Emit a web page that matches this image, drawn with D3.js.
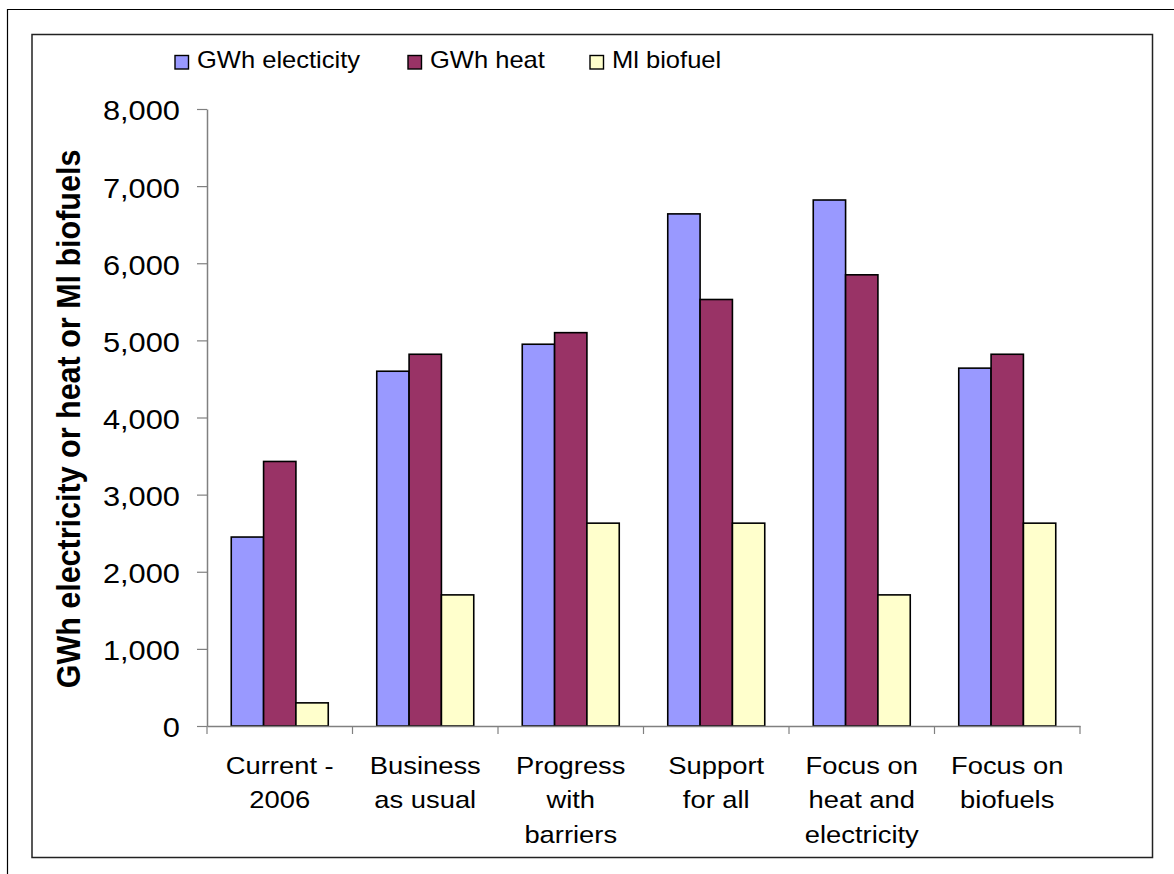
<!DOCTYPE html>
<html>
<head>
<meta charset="utf-8">
<script src="https://cdn.jsdelivr.net/npm/d3@7"></script>
<style>
  html, body { margin: 0; padding: 0; background: #fff; }
  svg { display: block; font-family: "Liberation Sans", Arial, sans-serif; }
</style>
</head>
<body>
<svg id="chart" width="1174" height="874"></svg>
<script>
// Scenario categories (multi-line labels)
const categories = [
  ["Current -", "2006"],
  ["Business", "as usual"],
  ["Progress", "with", "barriers"],
  ["Support", "for all"],
  ["Focus on", "heat and", "electricity"],
  ["Focus on", "biofuels"]
];
const seriesNames = ["GWh electicity", "GWh heat", "Ml biofuel"];
const electricity = [2450, 4600, 4950, 6640, 6820, 4640];
const heat        = [3430, 4820, 5100, 5530, 5850, 4820];
const biofuel     = [300, 1700, 2630, 2630, 1700, 2630];
const yTicks = [0, 1000, 2000, 3000, 4000, 5000, 6000, 7000, 8000];
const yTitle = "GWh electricity or heat or Ml biofuels";

const colors = ["#9999FF", "#993366", "#FFFFCC"];
const seriesValues = [electricity, heat, biofuel];

const svg = d3.select("#chart");
const font = '"Liberation Sans", Arial, sans-serif';
const stretch = 1.1; // text is drawn slightly wide

// Outer frame (only top and left edges fall inside the view)
svg.append("line").attr("x1", 7).attr("y1", 9.5).attr("x2", 1174).attr("y2", 9.5)
  .attr("stroke", "#000").attr("stroke-width", 1.2);
svg.append("line").attr("x1", 7.5).attr("y1", 9).attr("x2", 7.5).attr("y2", 874)
  .attr("stroke", "#000").attr("stroke-width", 1.2);

// Chart area border
svg.append("rect").attr("x", 32).attr("y", 34.5).attr("width", 1120.5).attr("height", 823)
  .attr("fill", "none").attr("stroke", "#222").attr("stroke-width", 1.5);

const plot = { left: 207, right: 1080, top: 109, bottom: 726 };

const x0 = d3.scaleBand()
  .domain(d3.range(categories.length))
  .range([plot.left, plot.right])
  .padding(0);
const x1 = d3.scaleBand()
  .domain(d3.range(seriesNames.length))
  .range([0, x0.bandwidth()])
  .paddingInner(0)
  .paddingOuter(0.75);
const y = d3.scaleLinear().domain([0, 8000]).range([plot.bottom, plot.top]);

// Bars
const rows = categories.map((c, i) => seriesValues.map((s, j) => ({ i, j, v: s[i] })));
svg.append("g").selectAll("g")
  .data(rows)
  .join("g")
  .attr("transform", (d, i) => `translate(${x0(i)},0)`)
  .selectAll("rect")
  .data(d => d)
  .join("rect")
  .attr("x", d => x1(d.j))
  .attr("y", d => y(d.v))
  .attr("width", x1.bandwidth())
  .attr("height", d => y(0) - y(d.v))
  .attr("fill", d => colors[d.j])
  .attr("stroke", "#000")
  .attr("stroke-width", 1.6);

// Y axis
const yAxis = d3.axisLeft(y)
  .tickValues(yTicks)
  .tickSizeInner(10)
  .tickSizeOuter(0)
  .tickFormat(d3.format(","));
const gy = svg.append("g").attr("transform", `translate(${plot.left},0)`).call(yAxis);
gy.select(".domain").attr("stroke", "#808080").attr("stroke-width", 1.5);
gy.selectAll(".tick line").attr("stroke", "#808080").attr("stroke-width", 1.2);
gy.selectAll(".tick text")
  .attr("x", 0)
  .attr("dy", "0.39em")
  .attr("transform", `translate(-27,0) scale(${stretch},1)`)
  .attr("fill", "#000")
  .style("font-family", font)
  .style("font-size", "28px");

// X axis
const xAxis = d3.axisBottom(x0).tickSize(0).tickFormat("");
const gx = svg.append("g").attr("transform", `translate(0,${plot.bottom})`).call(xAxis);
gx.select(".domain").attr("stroke", "#808080").attr("stroke-width", 1.5);
gx.selectAll(".tick").remove();
// category separator ticks
gx.selectAll(".sep")
  .data(d3.range(categories.length + 1))
  .join("line")
  .attr("class", "sep")
  .attr("x1", i => plot.left + i * x0.step())
  .attr("x2", i => plot.left + i * x0.step())
  .attr("y1", 0).attr("y2", 8)
  .attr("stroke", "#808080").attr("stroke-width", 1.2);

// Category labels
const catLabels = svg.append("g");
categories.forEach((lines, i) => {
  const cx = x0(i) + x0.bandwidth() / 2;
  const t = catLabels.append("text")
    .attr("transform", `translate(${cx},774) scale(1.14,1)`)
    .attr("text-anchor", "middle")
    .style("font-family", font)
    .style("font-size", "24px")
    .attr("fill", "#000");
  lines.forEach((ln, k) => {
    t.append("tspan")
      .attr("x", 0)
      .attr("dy", k === 0 ? 0 : 34.5)
      .text(ln);
  });
});

// Y axis title
svg.append("text")
  .attr("transform", `translate(80,${419}) scale(${stretch},1) rotate(-90)`)
  .attr("text-anchor", "middle")
  .style("font-family", font)
  .style("font-size", "30.5px")
  .style("font-weight", "bold")
  .attr("fill", "#000")
  .text(yTitle);

// Legend
const legendX = [175, 408, 590];
const legend = svg.append("g");
seriesNames.forEach((name, j) => {
  legend.append("rect")
    .attr("x", legendX[j]).attr("y", 55.5)
    .attr("width", 13.5).attr("height", 13.5)
    .attr("fill", colors[j]).attr("stroke", "#000").attr("stroke-width", 1.4);
  legend.append("text")
    .attr("transform", `translate(${legendX[j] + 22},68) scale(1.11,1)`)
    .style("font-family", font)
    .style("font-size", "23px")
    .attr("fill", "#000")
    .text(name);
});
</script>
</body>
</html>
